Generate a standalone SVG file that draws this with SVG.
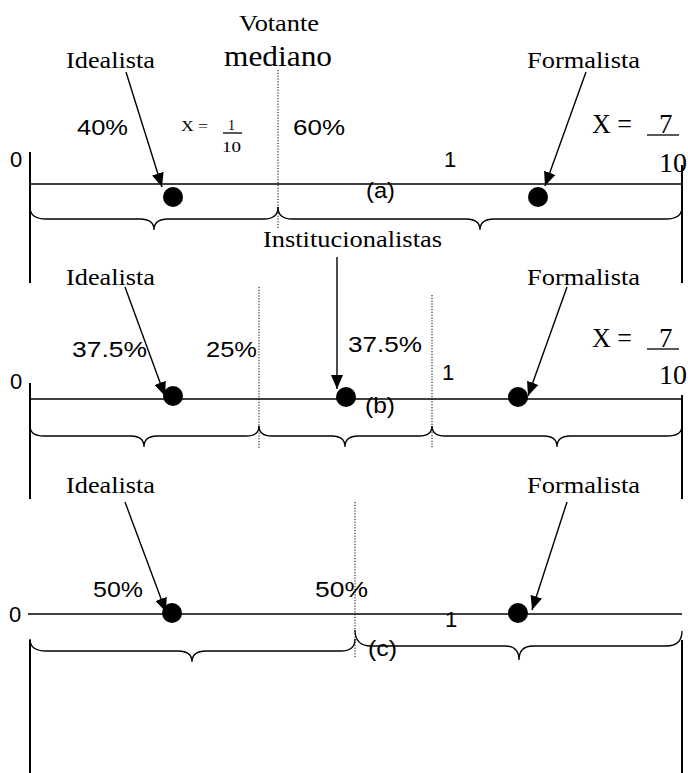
<svg xmlns="http://www.w3.org/2000/svg" width="688" height="773" viewBox="0 0 688 773">
  <style>
    .t { font-family: "Liberation Serif", "Times New Roman", serif; font-size: 24px; fill: #000; }
    .a { font-family: "Liberation Sans", Arial, sans-serif; font-size: 22px; fill: #000; }
    .sm { font-size: 14px; }
    .big { font-size: 27px; }
    .axis { stroke: #000; stroke-width: 1.4; fill: none; }
    .post { stroke: #000; stroke-width: 2; fill: none; }
    .brace { stroke: #000; stroke-width: 1.3; fill: none; }
    .dot { stroke: #000; stroke-width: 1; stroke-dasharray: 1.2 1.6; fill: none; }
    .arrow { stroke: #000; stroke-width: 1.4; fill: none; marker-end: url(#ah); }
    .bar { stroke: #000; stroke-width: 1.3; }
  </style>
  <defs>
    <marker id="ah" viewBox="0 0 14 12" refX="14" refY="6" markerWidth="14" markerHeight="12" markerUnits="userSpaceOnUse" orient="auto">
      <path d="M0,0 L14,6 L0,12 z" fill="#000"/>
    </marker>
  </defs>
  <rect width="688" height="773" fill="#fff"/>

  <!-- end posts of the scale (0 and 1) -->
  <g id="posts">
    <line class="post" x1="30" y1="152" x2="30" y2="283"/>
    <line class="post" x1="30" y1="383" x2="30" y2="499"/>
    <line class="post" x1="30" y1="640" x2="30" y2="773"/>
    <line class="post" x1="682" y1="165" x2="682" y2="283"/>
    <line class="post" x1="682" y1="395" x2="682" y2="499"/>
    <line class="post" x1="682" y1="640" x2="682" y2="773"/>
  </g>

  <!-- panel (a) -->
  <g id="panel-a">
    <line class="axis" x1="30" y1="184" x2="682" y2="184"/>
    <line class="dot" x1="278" y1="70" x2="278" y2="228"/>
    <path class="brace" d="M30,207 Q30,219 46,219 L140,219 Q154,219 154,230 Q154,219 168,219 L264,219 Q278,219 278,207"/>
    <path class="brace" d="M278,207 Q278,219 292,219 L466,219 Q480,219 480,230 Q480,219 494,219 L666,219 Q682,219 682,207"/>
    <g id="a-idealista">
      <text class="t" x="66" y="68" textLength="89" lengthAdjust="spacingAndGlyphs">Idealista</text>
      <circle cx="173" cy="197" r="10"/>
    </g>
    <g id="a-formalista">
      <text class="t" x="527" y="68" textLength="113" lengthAdjust="spacingAndGlyphs">Formalista</text>
      <circle cx="538" cy="197" r="10"/>
    </g>
    <g id="a-mediano">
      <text class="t" x="279" y="31" text-anchor="middle" style="font-size:23px" textLength="80" lengthAdjust="spacingAndGlyphs">Votante</text>
      <text class="t" x="278" y="66" text-anchor="middle" style="font-size:30px" textLength="108" lengthAdjust="spacingAndGlyphs">mediano</text>
    </g>
    <text class="a" x="77" y="135" textLength="51" lengthAdjust="spacingAndGlyphs">40%</text>
    <text class="a" x="293" y="135" textLength="52" lengthAdjust="spacingAndGlyphs">60%</text>
    <text class="t sm" x="181" y="131" textLength="27" lengthAdjust="spacingAndGlyphs">X =</text>
    <text class="t sm" x="228" y="130">1</text>
    <line class="bar" x1="223" y1="133" x2="242" y2="133"/>
    <text class="t sm" x="222" y="152" textLength="19" lengthAdjust="spacingAndGlyphs">10</text>
    <text class="a" x="444" y="167">1</text>
    <text class="t big" x="592" y="133" textLength="40" lengthAdjust="spacingAndGlyphs">X =</text>
    <text class="t big" x="659" y="133">7</text>
    <line class="bar" x1="647" y1="135" x2="679" y2="135"/>
    <text class="t big" x="659" y="172" textLength="28" lengthAdjust="spacingAndGlyphs">10</text>
    <text class="a" x="366" y="198" textLength="29" lengthAdjust="spacingAndGlyphs">(a)</text>
    <text class="a" x="10" y="167">0</text>
  </g>

  <!-- panel (b) -->
  <g id="panel-b">
    <line class="axis" x1="30" y1="399" x2="682" y2="399"/>
    <line class="dot" x1="259" y1="287" x2="259" y2="448"/>
    <line class="dot" x1="432" y1="295" x2="432" y2="448"/>
    <path class="brace" d="M30,426 Q30,436 44,436 L131,436 Q144,436 144,447 Q144,436 157,436 L246,436 Q259,436 259,426"/>
    <path class="brace" d="M259,426 Q259,436 272,436 L332,436 Q345,436 345,447 Q345,436 358,436 L419,436 Q432,436 432,426"/>
    <path class="brace" d="M432,426 Q432,436 445,436 L544,436 Q557,436 557,447 Q557,436 570,436 L667,436 Q682,436 682,426"/>
    <g id="b-idealista">
      <text class="t" x="66" y="285" textLength="89" lengthAdjust="spacingAndGlyphs">Idealista</text>
      <circle cx="173" cy="396" r="10"/>
    </g>
    <g id="b-institucionalistas">
      <text class="t" x="263" y="247" textLength="179" lengthAdjust="spacingAndGlyphs">Institucionalistas</text>
      <circle cx="346" cy="397" r="10"/>
    </g>
    <g id="b-formalista">
      <text class="t" x="527" y="285" textLength="113" lengthAdjust="spacingAndGlyphs">Formalista</text>
      <circle cx="518" cy="397" r="10"/>
    </g>
    <text class="a" x="72" y="357" textLength="75" lengthAdjust="spacingAndGlyphs">37.5%</text>
    <text class="a" x="206" y="357" textLength="51" lengthAdjust="spacingAndGlyphs">25%</text>
    <text class="a" x="348" y="352" textLength="74" lengthAdjust="spacingAndGlyphs">37.5%</text>
    <text class="a" x="442" y="380">1</text>
    <text class="t big" x="592" y="347" textLength="40" lengthAdjust="spacingAndGlyphs">X =</text>
    <text class="t big" x="659" y="347">7</text>
    <line class="bar" x1="647" y1="349" x2="679" y2="349"/>
    <text class="t big" x="659" y="384" textLength="28" lengthAdjust="spacingAndGlyphs">10</text>
    <text class="a" x="365" y="413" textLength="30" lengthAdjust="spacingAndGlyphs">(b)</text>
    <text class="a" x="10" y="389">0</text>
  </g>

  <!-- panel (c) -->
  <g id="panel-c">
    <line class="axis" x1="28" y1="614" x2="682" y2="614"/>
    <line class="dot" x1="355" y1="502" x2="355" y2="657"/>
    <path class="brace" d="M30,639 Q30,651 46,651 L178,651 Q192,651 192,662 Q192,651 206,651 L341,651 Q355,651 355,639"/>
    <path class="brace" d="M355,630 Q355,646 371,646 L505,646 Q519,646 519,660 Q519,646 533,646 L666,646 Q682,646 682,631"/>
    <g id="c-idealista">
      <text class="t" x="66" y="493" textLength="89" lengthAdjust="spacingAndGlyphs">Idealista</text>
      <circle cx="172" cy="613" r="10"/>
    </g>
    <g id="c-formalista">
      <text class="t" x="527" y="493" textLength="113" lengthAdjust="spacingAndGlyphs">Formalista</text>
      <circle cx="518" cy="613" r="10"/>
    </g>
    <text class="a" x="93" y="597" textLength="50" lengthAdjust="spacingAndGlyphs">50%</text>
    <text class="a" x="315" y="597" textLength="53" lengthAdjust="spacingAndGlyphs">50%</text>
    <text class="a" x="445" y="627">1</text>
    <text class="a" x="368" y="656" textLength="29" lengthAdjust="spacingAndGlyphs">(c)</text>
    <text class="a" x="9" y="622">0</text>
  </g>

  <!-- pointer arrows -->
  <g id="connectors">
    <line class="arrow" x1="126" y1="72" x2="162" y2="187"/>
    <line class="arrow" x1="586" y1="72" x2="545" y2="186"/>
    <line class="arrow" x1="125" y1="287" x2="165" y2="396"/>
    <line class="arrow" x1="337" y1="257" x2="337" y2="389"/>
    <line class="arrow" x1="567" y1="287" x2="528" y2="396"/>
    <line class="arrow" x1="125" y1="502" x2="166" y2="612"/>
    <line class="arrow" x1="567" y1="502" x2="532" y2="610"/>
  </g>
</svg>
